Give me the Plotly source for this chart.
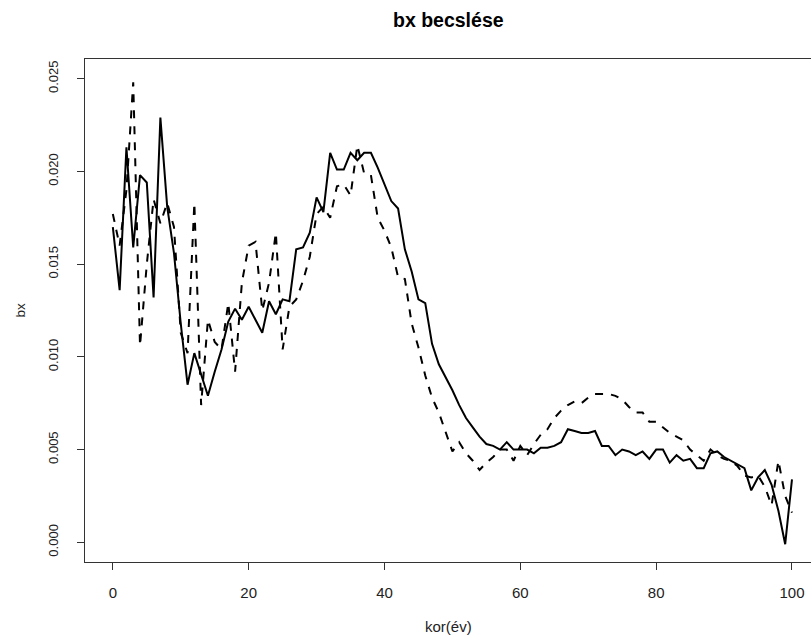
import plotly.graph_objects as go

ages = list(range(0, 101))

bx_solid = [
    0.0170, 0.0136, 0.0213, 0.0159, 0.0198, 0.0194, 0.0132, 0.0229, 0.0181, 0.0156,
    0.0118, 0.0085, 0.0102, 0.0091, 0.0079, 0.0092, 0.0104, 0.0119, 0.0126, 0.0120,
    0.0127, 0.0120, 0.0113, 0.0130, 0.0123, 0.0131, 0.0130, 0.0158, 0.0159, 0.0167,
    0.0186, 0.0178, 0.0210, 0.0201, 0.0201, 0.0210, 0.0206, 0.0210, 0.0210, 0.0202,
    0.0193, 0.0184, 0.0180, 0.0158, 0.0146, 0.0131, 0.0129, 0.0107, 0.0096, 0.0089,
    0.0082, 0.0074, 0.0067, 0.0062, 0.0057, 0.0053, 0.0052, 0.0050, 0.0054, 0.0050,
    0.0050, 0.0050, 0.0048, 0.0051, 0.0051, 0.0052, 0.0054, 0.0061, 0.0060, 0.0059,
    0.0059, 0.0060, 0.0052, 0.0052, 0.0047, 0.0050, 0.0049, 0.0047, 0.0049, 0.0045,
    0.0050, 0.0050, 0.0043, 0.0047, 0.0044, 0.0045, 0.0040, 0.0040, 0.0048, 0.0049,
    0.0046, 0.0044, 0.0042, 0.0040, 0.0028, 0.0035, 0.0039, 0.0031, 0.0017, -0.0001,
    0.0034,
]

bx_dashed = [
    0.0177, 0.0160, 0.0190, 0.0248, 0.0106, 0.0150, 0.0185, 0.0172, 0.0183, 0.0170,
    0.0113, 0.0102, 0.0183, 0.0074, 0.0120, 0.0108, 0.0104, 0.0129, 0.0092, 0.0140,
    0.0160, 0.0162, 0.0125, 0.0140, 0.0167, 0.0104, 0.0127, 0.0131, 0.0141, 0.0154,
    0.0177, 0.0181, 0.0175, 0.0192, 0.0193, 0.0187, 0.0214, 0.0199, 0.0198, 0.0175,
    0.0168, 0.0159, 0.0143, 0.0142, 0.0118, 0.0105, 0.0090, 0.0078, 0.0070, 0.0060,
    0.0049, 0.0054, 0.0048, 0.0044, 0.0039, 0.0043, 0.0046, 0.0050, 0.0050, 0.0044,
    0.0052, 0.0047, 0.0053, 0.0058, 0.0061, 0.0067, 0.0071, 0.0074, 0.0076, 0.0075,
    0.0078, 0.0080, 0.0080, 0.0080, 0.0079, 0.0077, 0.0073, 0.0070, 0.0070, 0.0065,
    0.0065, 0.0062, 0.0059, 0.0057, 0.0055, 0.0050, 0.0047, 0.0044, 0.0050, 0.0047,
    0.0045, 0.0044, 0.0041, 0.0036, 0.0035, 0.0036, 0.0030, 0.0020, 0.0044, 0.0025,
    0.0016,
]

x_ticks = [0, 20, 40, 60, 80, 100]
y_ticks = [0.000, 0.005, 0.010, 0.015, 0.020, 0.025]
y_tick_labels = ["0.000", "0.005", "0.010", "0.015", "0.020", "0.025"]

FONT = "Liberation Sans, Arial, sans-serif"

fig = go.Figure()
fig.add_trace(go.Scatter(x=ages, y=bx_solid, mode="lines",
                         line=dict(color="black", width=2), showlegend=False))
fig.add_trace(go.Scatter(x=ages, y=bx_dashed, mode="lines",
                         line=dict(color="black", width=2, dash="8px,8px"), showlegend=False))

fig.update_layout(
    width=811, height=642,
    margin=dict(l=85, r=0, t=59, b=80),
    plot_bgcolor="white", paper_bgcolor="white",
    font=dict(family=FONT, size=13, color="#222"),
    xaxis=dict(range=[-4.1, 102.8], tickvals=x_ticks, ticks="outside", ticklen=7,
               tickcolor="#333", showline=True, linecolor="#333", linewidth=1,
               mirror=True, showgrid=False, zeroline=False,
               tickfont=dict(size=15, color="#222"), ticklabelstandoff=10),
    yaxis=dict(range=[-0.00106, 0.02606], tickvals=y_ticks, ticktext=y_tick_labels,
               ticks="outside", ticklen=7, tickcolor="#333", showline=True,
               linecolor="#333", linewidth=1, mirror=False, showgrid=False,
               zeroline=False, tickangle=-90, tickfont=dict(size=13, color="#222"),
               ticklabelstandoff=14),
    annotations=[
        dict(text="<b>bx becslése</b>", x=0.5, y=1, xref="paper", yref="paper",
             yanchor="middle", yshift=39, showarrow=False,
             font=dict(size=19.5, color="black")),
        dict(text="kor(év)", x=0.5, y=0, xref="paper", yref="paper", showarrow=False,
             yanchor="middle", yshift=-64, font=dict(size=15, color="#222")),
        dict(text="bx", x=0, y=0.5, xref="paper", yref="paper", showarrow=False,
             textangle=-90, xanchor="center", xshift=-65, font=dict(size=13.5, color="#222")),
    ],
)

fig.write_html("out.html")
